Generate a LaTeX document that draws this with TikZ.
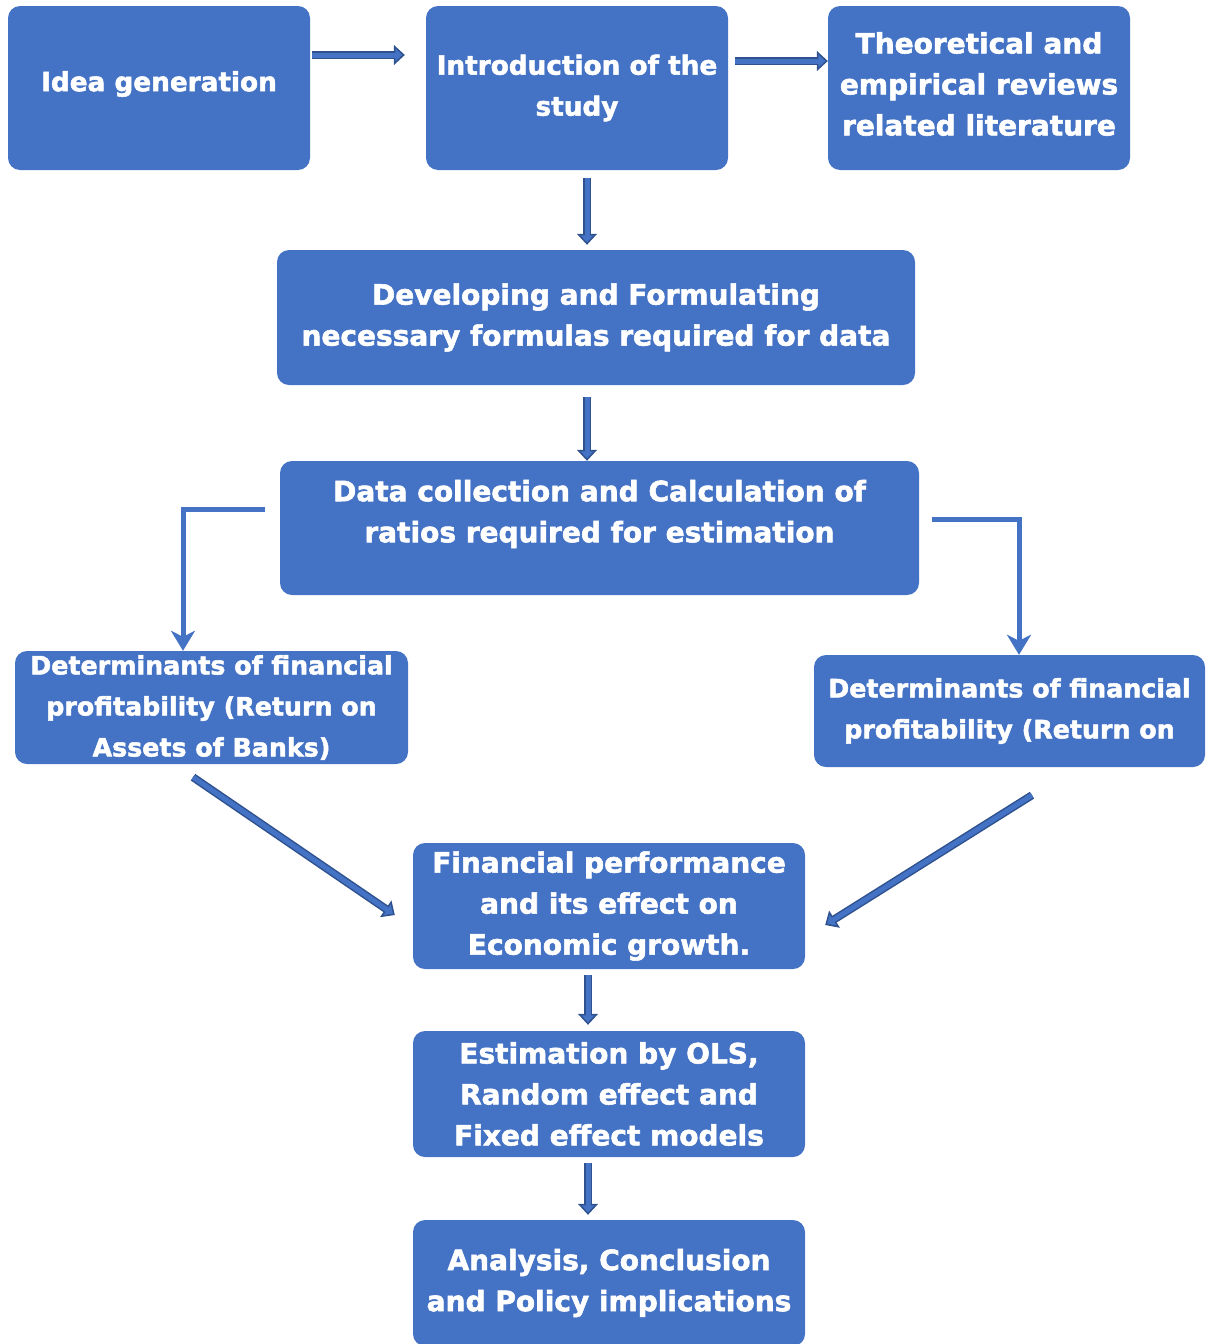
\documentclass[tikz,border=0pt]{standalone}
\usepackage{fontspec}
\setmainfont{DejaVu Sans}[BoldFeatures={FakeBold=2}]
\usetikzlibrary{arrows.meta}
\definecolor{boxblue}{HTML}{4472C4}
\definecolor{arrdark}{HTML}{2F528F}
\begin{document}
\begin{tikzpicture}[x=1pt, y=-1pt,
	fs/.style={font=\bfseries\fontsize{#1}{41}\selectfont},
	boxtext/.style={text=white, fs=28, align=center},
	box/.style={boxtext, rectangle, rounded corners=12pt, fill=boxblue, inner sep=0pt},
	blk/.style={draw=arrdark, line width=8pt, -{Triangle[length=11pt, width=20pt, fill=boxblue, line width=1.5pt]},
		postaction={draw=boxblue, line width=5pt, shorten >=9pt, -}},
	elbow/.style={draw=boxblue, line width=5pt, -{Stealth[length=20pt, width=24pt, inset=6pt]}}]
	\useasboundingbox (0,0) rectangle (1205,1344);
	\node[box, minimum width=302, minimum height=164,
		label={[boxtext, fs=26.3, yshift=4pt]center:{Idea generation}}] (idea) at (159,88) {};
	\node[box, fs=26.3, minimum width=302, minimum height=164] (intro) at (577,88) {Introduction of the\\study};
	\node[box, minimum width=302, minimum height=164,
		label={[boxtext, yshift=4pt]center:{Theoretical and\\empirical reviews\\related literature}}] (theory) at (979,88) {};
	\node[box, minimum width=638, minimum height=135] (formul) at (596,317.5) {Developing and Formulating\\necessary formulas required for data};
	\node[box, minimum width=639, minimum height=134,
		label={[boxtext, yshift=14pt]center:{Data collection and Calculation of\\ratios required for estimation}}] (data) at (599.5,528) {};
	\node[box, fs=25.3, minimum width=393, minimum height=113] (roaL) at (211.5,707.5) {Determinants of financial\\profitability (Return on\\Assets of Banks)};
	\node[box, fs=25.3, minimum width=391, minimum height=112] (roaR) at (1009.5,711) {Determinants of financial\\profitability (Return on};
	\node[box, minimum width=392, minimum height=126] (perf) at (609,906) {Financial performance\\and its effect on\\Economic growth.};
	\node[box, minimum width=392, minimum height=126] (estim) at (609,1094) {Estimation by OLS,\\Random effect and\\Fixed effect models};
	\node[box, minimum width=392, minimum height=126] (concl) at (609,1283) {Analysis, Conclusion\\and Policy implications};

	\draw[blk] ([shift={(2pt,33pt)}]idea.east) -- ([shift={(-21pt,33pt)}]intro.west);
	\draw[blk] ([shift={(7pt,27pt)}]intro.east) -- ([yshift=27pt]theory.west);
	\draw[blk] ([shift={(10pt,-8pt)}]intro.south) -- ([shift={(-9pt,5pt)}]formul.north);
	\draw[blk] ([shift={(-9pt,-12pt)}]formul.south) -- ([xshift=-12.5pt]data.north);
	\draw[elbow] ([shift={(-15pt,19pt)}]data.west) -| ([xshift=-28.5pt]roaL.north);
	\draw[elbow] ([shift={(13pt,9pt)}]data.east) -| ([xshift=9.5pt]roaR.north);
	\draw[blk] ([shift={(-18.5pt,-13pt)}]roaL.south) -- ([shift={(-18pt,-9pt)}]perf.west);
	\draw[blk] ([shift={(22.5pt,-28pt)}]roaR.south) -- ([shift={(20pt,-19pt)}]perf.east);
	\draw[blk] ([shift={(-21pt,-6pt)}]perf.south) -- ([shift={(-21pt,6pt)}]estim.north);
	\draw[blk] ([shift={(-21pt,-6pt)}]estim.south) -- ([shift={(-21pt,5pt)}]concl.north);
\end{tikzpicture}
\end{document}
